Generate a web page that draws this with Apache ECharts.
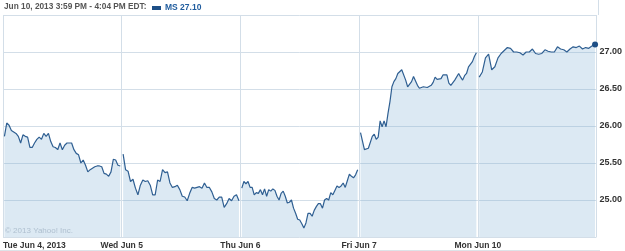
<!DOCTYPE html>
<html>
<head>
<meta charset="utf-8">
<script src="https://cdn.jsdelivr.net/npm/echarts@6/dist/echarts.min.js"></script>
<style>html,body{margin:0;padding:0;background:#fff;}#c{width:625px;height:251px;}</style>
</head>
<body>
<div id="c"></div>
<script>
var dayLabels = ['Tue Jun 4, 2013', 'Wed Jun 5', 'Thu Jun 6', 'Fri Jun 7', 'Mon Jun 10'];
var yTicks = [25.0, 25.5, 26.0, 26.5, 27.0];
var titleText = 'Jun 10, 2013 3:59 PM - 4:04 PM EDT:';
var seriesName = 'MS 27.10';

var jun4 = [25.86, 26.04, 26.01, 25.94, 25.92, 25.90, 25.86, 25.77, 25.88, 25.86, 25.85, 25.71, 25.71, 25.77, 25.82, 25.85, 25.82, 25.90, 25.86, 25.90, 25.79, 25.72, 25.71, 25.68, 25.77, 25.68, 25.74, 25.77, 25.77, 25.77, 25.68, 25.63, 25.61, 25.50, 25.54, 25.47, 25.38, 25.41, 25.43, 25.45, 25.46, 25.46, 25.45, 25.36, 25.35, 25.32, 25.38, 25.55, 25.54, 25.47, 25.46];
var jun5 = [25.62, 25.41, 25.39, 25.25, 25.28, 25.16, 25.07, 25.20, 25.27, 25.25, 25.26, 25.20, 25.07, 25.07, 25.27, 25.25, 25.41, 25.37, 25.38, 25.23, 25.17, 25.18, 25.20, 25.14, 25.05, 25.04, 24.99, 25.09, 25.17, 25.16, 25.17, 25.18, 25.16, 25.23, 25.17, 25.17, 25.11, 25.02, 25.00, 25.04, 25.04, 24.90, 24.95, 25.02, 24.99, 25.05, 25.07, 24.99];
var jun6 = [25.16, 25.25, 25.22, 25.25, 25.17, 25.17, 25.07, 25.10, 25.09, 25.14, 25.07, 25.15, 25.05, 25.14, 25.12, 25.15, 25.13, 25.05, 25.00, 25.09, 25.12, 25.05, 24.96, 24.97, 25.00, 24.89, 24.82, 24.74, 24.73, 24.68, 24.62, 24.69, 24.82, 24.82, 24.78, 24.86, 24.91, 24.95, 24.95, 24.89, 25.00, 25.02, 25.00, 25.10, 25.07, 25.13, 25.19, 25.17, 25.19, 25.23, 25.17, 25.26, 25.35, 25.32, 25.30, 25.34, 25.41];
var jun7 = [25.91, 25.92, 25.68, 25.69, 25.70, 25.68, 25.86, 25.89, 25.82, 25.85, 26.07, 25.99, 26.07, 25.99, 26.17, 26.33, 26.53, 26.60, 26.64, 26.71, 26.69, 26.76, 26.77, 26.62, 26.53, 26.55, 26.60, 26.67, 26.66, 26.55, 26.51, 26.51, 26.53, 26.53, 26.52, 26.54, 26.55, 26.59, 26.66, 26.63, 26.65, 26.64, 26.69, 26.71, 26.69, 26.58, 26.55, 26.56, 26.62, 26.64, 26.71, 26.66, 26.62, 26.68, 26.71, 26.80, 26.81, 26.87, 26.94, 26.99];
var jun10 = [26.66, 26.73, 26.92, 26.97, 26.76, 26.80, 26.92, 26.98, 27.02, 27.06, 27.05, 27.00, 27.00, 26.99, 26.96, 27.00, 27.00, 27.04, 26.98, 26.97, 26.98, 27.03, 27.01, 27.00, 27.00, 27.07, 27.04, 27.03, 27.00, 27.04, 27.07, 27.06, 27.08, 27.04, 27.06, 27.05, 27.08, 27.10];

var days = [jun4, jun5, jun6, jun7, jun10];

var LINE = '#2f5f92';
var series = days.map(function (arr, d) {
  var n = arr.length;
  var data = arr.map(function (v, i) {
    var x = d + 0.012 + i * (0.976 / (n - 1));
    var item = { value: [x, v] };
    if (d === days.length - 1 && i === n - 1) {
      item.symbol = 'circle';
      item.symbolSize = 6;
      item.itemStyle = { color: '#1d4f86' };
    }
    return item;
  });
  return {
    name: seriesName,
    type: 'line',
    data: data,
    symbol: 'none',
    showSymbol: true,
    smooth: false,
    animation: false,
    silent: true,
    lineStyle: { color: LINE, width: 1.2 },
    itemStyle: { color: LINE },
    areaStyle: { color: 'rgba(130,175,212,0.40)', origin: 'start' }
  };
});

var chart = echarts.init(document.getElementById('c'), null, { renderer: 'canvas' });
chart.setOption({
  backgroundColor: '#ffffff',
  animation: false,
  grid: { left: 3, right: 27, top: 15, bottom: 14, containLabel: false },
  xAxis: {
    type: 'value', min: 0, max: 5, interval: 1,
    axisLine: { show: false }, axisTick: { show: false },
    splitLine: { show: true, lineStyle: { color: '#d3dee8', width: 1 } },
    axisLabel: {
      show: true, margin: 4,
      color: '#333', fontFamily: 'Liberation Sans', fontWeight: 'bold', fontSize: 8.5,
      alignMinLabel: 'left',
      showMaxLabel: false,
      formatter: function (v) { return dayLabels[Math.round(v)] || ''; }
    }
  },
  yAxis: {
    type: 'value', position: 'right', min: 24.5, max: 27.5, interval: 0.5,
    axisLine: { show: false }, axisTick: { show: false },
    splitLine: { show: true, lineStyle: { color: '#d3dee8', width: 1 } },
    axisLabel: {
      show: true, margin: 3, showMinLabel: false, showMaxLabel: false,
      color: '#333', fontFamily: 'Liberation Sans', fontWeight: 'bold', fontSize: 9,
      formatter: function (v) { return yTicks.indexOf(Math.round(v * 100) / 100) >= 0 ? v.toFixed(2) : ''; }
    }
  },
  series: series,
  graphic: [
    { type: 'text', left: 4, top: 3, style: { text: titleText, fill: '#555', font: 'bold 8.3px "Liberation Sans"' } },
    { type: 'rect', shape: { x: 152, y: 6, width: 9, height: 4 }, style: { fill: '#1d4f86' } },
    { type: 'text', left: 165, top: 3, style: { text: seriesName, fill: '#1f5c9e', font: 'bold 8.5px "Liberation Sans"' } },
    { type: 'text', left: 5, top: 227, z: 10, style: { text: '\u00a9 2013 Yahoo! Inc.', fill: '#aebfcf', font: '8px "Liberation Sans"' } },
    { type: 'line', shape: { x1: 598.5, y1: 0, x2: 598.5, y2: 15 }, style: { stroke: '#d3dee8', lineWidth: 1 } },
    { type: 'line', shape: { x1: 0, y1: 250.5, x2: 600, y2: 250.5 }, style: { stroke: '#dde3e8', lineWidth: 1 } }
  ]
});
</script>
</body>
</html>
